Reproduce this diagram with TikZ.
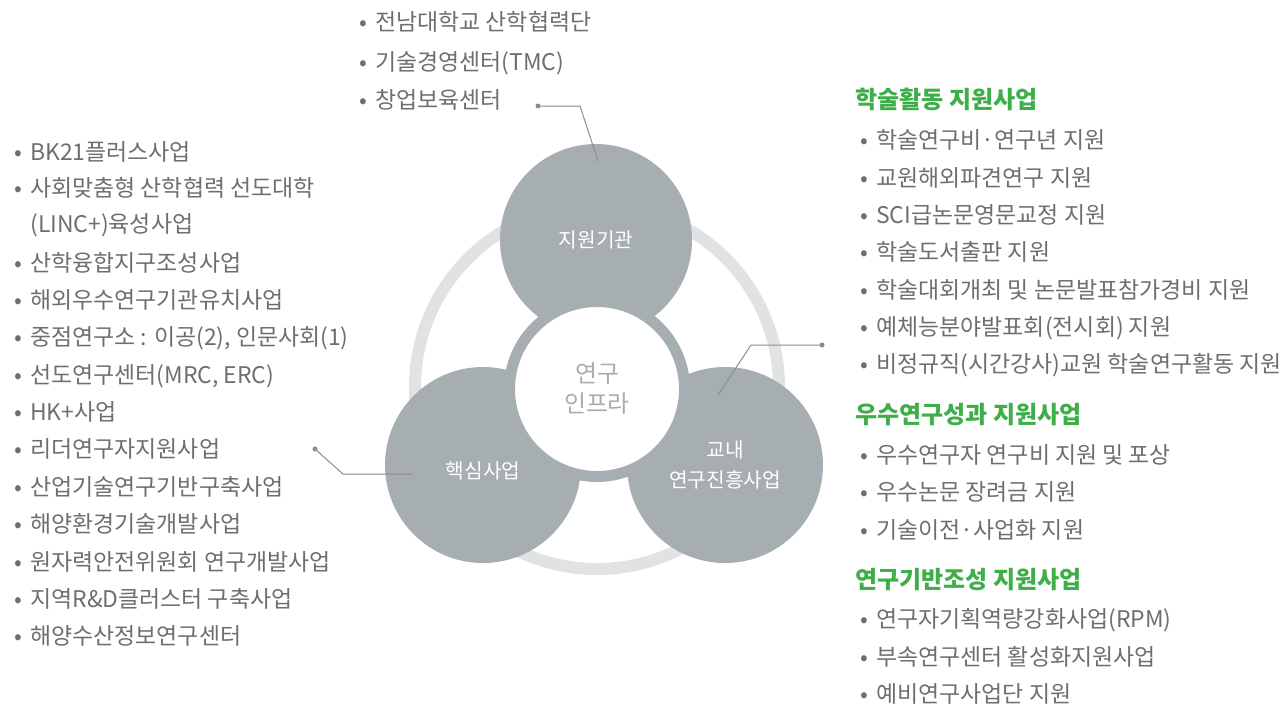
\documentclass[tikz,border=0pt]{standalone}
\usepackage{fontspec}
\setmainfont{Noto Sans CJK KR}

\definecolor{hubgray}{HTML}{A6AEB2}
\definecolor{ringgray}{HTML}{E1E2E3}
\definecolor{txtgray}{HTML}{6E6E6E}
\definecolor{leadgray}{HTML}{8C8C8C}
\definecolor{headgreen}{HTML}{3DAE48}

\newcommand{\bul}{\makebox[12pt][l]{•}}

\tikzset{
  hub/.style={circle, fill=hubgray, text=white, inner sep=0pt, align=center,
    font=\fontsize{15.2}{23}\selectfont},
  item/.style={anchor=west, inner sep=0pt, text=txtgray, text height=17.5pt, text depth=2.5pt,
    font=\fontsize{17.2}{20}\selectfont},
  head/.style={anchor=west, inner sep=0pt, text=headgreen, text height=16pt, text depth=3pt,
    font=\fontsize{18}{20}\selectfont\bfseries},
  lead/.style={leadgray, line width=0.75pt},
}

\begin{document}
\begin{tikzpicture}[x=0.75pt, y=-0.75pt]
    \useasboundingbox (0,0) rectangle (1287,707);

    % Outer ring
    \draw[ringgray, line width=9pt] (597,387) circle (182);

    % Three circles
    \node[hub, minimum size=144pt] (support) at (596,240) {지원기관};
    \node[hub, minimum size=147pt, text height=23pt, text depth=3pt] (core) at (483,465) {핵심사업};
    \node[hub, minimum size=147pt] (campus) at (725,465) {교내\\연구진흥사업};

    % Centre circle
    \node[circle, fill=white, draw=hubgray, line width=8.25pt, minimum size=131.25pt, inner sep=0pt,
          align=center, text=hubgray, font=\fontsize{17.9}{22.5}\selectfont] (infra) at (597,389) {연구\\인프라};

    % Leader to support
    \coordinate (supdot) at (538,106);
    \coordinate (supbend) at (580,106);
    \coordinate (supend) at (598,161);
    \draw[lead] (supdot) -- (supbend) -- (supend);
    \fill[leadgray] (supdot) circle (2.5);

    % Leader to campus
    \coordinate (camdot) at (822,345);
    \coordinate (cambend) at (751,345);
    \coordinate (camend) at (718,395);
    \draw[lead] (camdot) -- (cambend) -- (camend);
    \fill[leadgray] (camdot) circle (2.5);

    % Leader to core
    \coordinate (cordot) at (315,449);
    \coordinate (corbend) at (343,474);
    \coordinate (corend) at (413,474);
    \draw[lead] (cordot) -- (corbend) -- (corend);
    \fill[leadgray] (cordot) circle (2.5);

    % Top list
    \node[item] (t1) at (359,20) {\bul 전남대학교 산학협력단};
    \node[item] (t2) at (359,60) {\bul 기술경영센터(TMC)};
    \node[item] (t3) at (359,98) {\bul 창업보육센터};

    % Left list
    \node[item] (l1) at (14,150) {\bul BK21플러스사업};
    \node[item] (l2) at (14,186) {\bul 사회맞춤형 산학협력 선도대학};
    \node[item] (l3) at (30,222) {(LINC+)육성사업};
    \node[item] (l4) at (14,261) {\bul 산학융합지구조성사업};
    \node[item] (l5) at (14,298) {\bul 해외우수연구기관유치사업};
    \node[item] (l6) at (14,335) {\bul 중점연구소 : 이공(2), 인문사회(1)};
    \node[item] (l7) at (14,373) {\bul 선도연구센터(MRC, ERC)};
    \node[item] (l8) at (14,410) {\bul HK+사업};
    \node[item] (l9) at (14,447) {\bul 리더연구자지원사업};
    \node[item] (l10) at (14,485) {\bul 산업기술연구기반구축사업};
    \node[item] (l11) at (14,522) {\bul 해양환경기술개발사업};
    \node[item] (l12) at (14,560) {\bul 원자력안전위원회 연구개발사업};
    \node[item] (l13) at (14,597) {\bul 지역R\&D클러스터 구축사업};
    \node[item] (l14) at (14,634) {\bul 해양수산정보연구센터};

    % Right list
    \node[head] (h1) at (855,100) {학술활동 지원사업};
    \node[item] (r1) at (860,138) {\bul 학술연구비·연구년 지원};
    \node[item] (r2) at (860,176) {\bul 교원해외파견연구 지원};
    \node[item] (r3) at (860,213) {\bul SCI급논문영문교정 지원};
    \node[item] (r4) at (860,250) {\bul 학술도서출판 지원};
    \node[item] (r5) at (860,288) {\bul 학술대회개최 및 논문발표참가경비 지원};
    \node[item] (r6) at (860,325) {\bul 예체능분야발표회(전시회) 지원};
    \node[item] (r7) at (860,362) {\bul 비정규직(시간강사)교원 학술연구활동 지원};

    \node[head] (h2) at (855,415) {우수연구성과 지원사업};
    \node[item] (r8) at (860,453) {\bul 우수연구자 연구비 지원 및 포상};
    \node[item] (r9) at (860,490) {\bul 우수논문 장려금 지원};
    \node[item] (r10) at (860,528) {\bul 기술이전·사업화 지원};

    \node[head] (h3) at (855,580) {연구기반조성 지원사업};
    \node[item] (r11) at (860,617) {\bul 연구자기획역량강화사업(RPM)};
    \node[item] (r12) at (860,655) {\bul 부속연구센터 활성화지원사업};
    \node[item] (r13) at (860,692) {\bul 예비연구사업단 지원};

\end{tikzpicture}
\end{document}
